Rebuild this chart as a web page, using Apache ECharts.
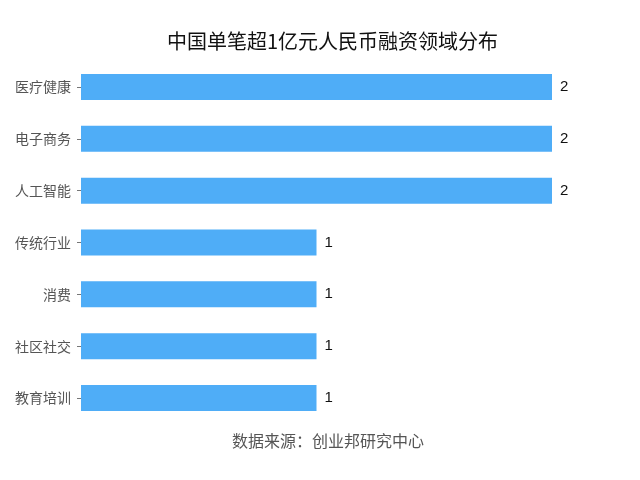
<!DOCTYPE html>
<html>
<head>
<meta charset="utf-8">
<script src="https://cdn.jsdelivr.net/npm/echarts@6/dist/echarts.min.js"></script>
<style>
  html, body { margin: 0; padding: 0; background: #fff; }
  #chart { width: 640px; height: 480px; }
</style>
</head>
<body>
<div id="chart"></div>
<script>
const categories = ['医疗健康', '电子商务', '人工智能', '传统行业', '消费', '社区社交', '教育培训'];
const values = [2, 2, 2, 1, 1, 1, 1];
const titleText = '中国单笔超1亿元人民币融资领域分布';
const sourceText = '数据来源：创业邦研究中心';

const getOption = () => {
  return {
    backgroundColor: '#fff',
    title: [
      {
        text: titleText,
        left: 162,
        top: 26,
        textStyle: { fontSize: 20, fontWeight: 'normal', color: '#111', fontFamily: 'Noto Sans CJK SC' }
      },
      {
        text: sourceText,
        left: 227,
        top: 428,
        textStyle: { fontSize: 16, fontWeight: 'normal', color: '#555', fontFamily: 'Noto Sans CJK SC' }
      }
    ],
    grid: { left: 81, right: 88, top: 61, bottom: 56 },
    xAxis: {
      type: 'value',
      min: 0,
      max: 2,
      show: false
    },
    yAxis: {
      type: 'category',
      inverse: true,
      data: categories,
      axisLine: { show: false },
      axisTick: { show: true, alignWithLabel: true, length: 4, lineStyle: { color: '#777' } },
      axisLabel: { fontSize: 14, color: '#555', margin: 10, fontFamily: 'Noto Sans CJK SC' }
    },
    series: [
      {
        type: 'bar',
        data: values,
        barWidth: 26,
        itemStyle: { color: '#4FADF7' },
        label: {
          show: true,
          position: 'right',
          distance: 8,
          fontSize: 15,
          color: '#111'
        }
      }
    ]
  };
};

const chart = echarts.init(document.querySelector('#chart'));
chart.setOption(getOption());
</script>
</body>
</html>
